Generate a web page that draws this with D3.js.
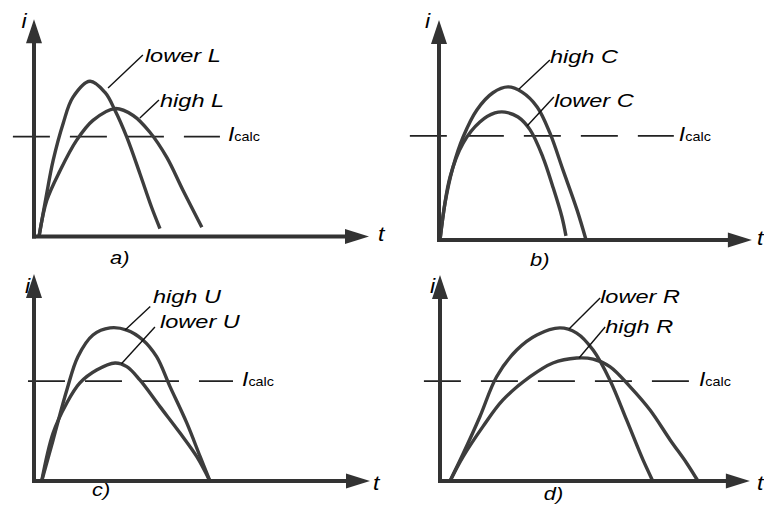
<!DOCTYPE html>
<html>
<head>
<meta charset="utf-8">
<script src="https://d3js.org/d3.v7.min.js"></script>
<style>
    body { margin: 0; background: #fff; }
    svg { display: block; }
    text { font-family: "Liberation Sans", Arial, sans-serif; font-style: italic; fill: #000; }
</style>
</head>
<body>
<div class="chart"></div>
<script>

// curve samples as [t, i] (t: 0..10, i: 0..10 per panel)
var lowerL = [[0.15,0],[0.38,2.0],[0.57,3.53],[0.87,5.26],[1.16,6.47],[1.67,7.22],[2.12,6.70],[2.42,5.86],[2.77,4.62],[3.16,2.93],[3.51,1.36],[3.76,0.37]];
var highL  = [[0.15,0],[0.38,1.67],[0.78,3.07],[1.27,4.47],[1.76,5.40],[2.42,5.95],[2.96,5.63],[3.46,4.85],[3.96,3.69],[4.45,2.14],[5.01,0.43]];

var highC  = [[0.03,0],[0.18,1.72],[0.42,3.40],[0.72,4.79],[1.13,6.05],[1.61,6.85],[2.06,7.12],[2.48,6.88],[2.93,6.19],[3.31,4.98],[3.70,3.26],[4.12,1.40],[4.39,0]];
var lowerC = [[0.03,0],[0.33,2.93],[0.72,4.51],[1.22,5.49],[1.67,5.91],[1.97,5.95],[2.36,5.72],[2.72,5.12],[3.10,3.86],[3.40,2.47],[3.67,1.07],[3.79,0.19]];

var highU  = [[0.23,0],[0.57,1.91],[0.98,4.23],[1.31,5.78],[1.76,6.79],[2.27,7.12],[2.77,7.02],[3.25,6.56],[3.66,5.78],[4.06,4.39],[4.56,2.70],[4.96,1.13],[5.25,0]];
var lowerU = [[0.23,0],[0.57,2.23],[0.98,3.63],[1.37,4.56],[1.87,5.16],[2.42,5.49],[2.77,5.32],[3.16,4.70],[3.76,3.46],[4.36,2.23],[4.86,1.13],[5.25,0]];

var lowerR = [[0.30,0],[0.70,1.30],[1.19,2.99],[1.69,4.85],[2.29,6.09],[2.89,6.79],[3.58,7.12],[4.08,6.88],[4.57,6.09],[5.07,4.70],[5.57,2.84],[6.06,0.98],[6.35,0]];
var highR  = [[0.30,0],[0.69,1.13],[1.28,2.53],[1.88,3.77],[2.69,4.85],[3.37,5.49],[4.08,5.72],[4.57,5.67],[5.07,5.32],[5.67,4.39],[6.27,3.30],[6.87,1.91],[7.36,0.84],[7.70,0]];

// I_calc level for each panel
var calcLevels = [4.65, 4.84, 4.65, 4.65];

// panel captions
var captions = ["a)", "b)", "c)", "d)"];

// curve labels, per panel
var curveLabels = [
    ["lower L", "high L"],
    ["high C", "lower C"],
    ["high U", "lower U"],
    ["lower R", "high R"]
];


/*
 * CurvePanel - one small i(t) diagram
 */

CurvePanel = function(_svg, _config){
    this.svg = _svg;
    this.config = _config;

    this.initVis();
}

CurvePanel.prototype.initVis = function(){
    var vis = this;
    var c = vis.config;

    // 10 units of t = 335px, 10 units of i = 215px
    vis.x = d3.scaleLinear()
        .domain([0, 10])
        .range([c.origin[0], c.origin[0] + 335]);

    vis.y = d3.scaleLinear()
        .domain([0, 10])
        .range([c.origin[1], c.origin[1] - 215]);

    vis.g = vis.svg.append("g").attr("class", "panel");

    vis.line = d3.line()
        .x(function(d) { return vis.x(d[0]); })
        .y(function(d) { return vis.y(d[1]); })
        .curve(d3.curveCatmullRom.alpha(0.5));

    vis.updateVis();
}

CurvePanel.prototype.updateVis = function(){
    var vis = this;
    var c = vis.config;
    var axisColor = "#333";

    // I_calc dashed line
    vis.g.append("line")
        .attr("x1", vis.x(c.dash[0]))
        .attr("x2", vis.x(c.dash[1]))
        .attr("y1", vis.y(c.level))
        .attr("y2", vis.y(c.level))
        .attr("stroke", "#222")
        .attr("stroke-width", 1.8)
        .attr("stroke-dasharray", "37,20");

    // curves
    vis.g.selectAll(".curve")
        .data(c.curves)
        .enter()
        .append("path")
        .attr("class", "curve")
        .attr("d", vis.line)
        .attr("fill", "none")
        .attr("stroke", "#3d3d3d")
        .attr("stroke-width", 3.4);

    // axes
    var x0 = vis.x(0), y0 = vis.y(0);
    var xt = vis.x(c.tMax), yt = vis.y(c.iMax);

    vis.g.append("line")
        .attr("x1", x0 - 2).attr("x2", xt - 20)
        .attr("y1", y0).attr("y2", y0)
        .attr("stroke", axisColor).attr("stroke-width", 4);

    vis.g.append("line")
        .attr("x1", x0).attr("x2", x0)
        .attr("y1", y0 + 2).attr("y2", yt + 20)
        .attr("stroke", axisColor).attr("stroke-width", 4);

    vis.g.append("path")
        .attr("d", "M" + xt + "," + y0 + "L" + (xt - 24) + "," + (y0 - 7.5) + "L" + (xt - 24) + "," + (y0 + 7.5) + "Z")
        .attr("fill", axisColor);

    vis.g.append("path")
        .attr("d", "M" + x0 + "," + yt + "L" + (x0 - 8) + "," + (yt + 24) + "L" + (x0 + 8) + "," + (yt + 24) + "Z")
        .attr("fill", axisColor);

    // axis letters
    vis.addText("t", c.tPos, 21, 1.1);
    vis.addText("i", c.iPos, 21, 1.1);

    // leaders + labels
    c.labels.forEach(function(l, k) {
        vis.g.append("line")
            .attr("x1", vis.x(l.from[0])).attr("y1", vis.y(l.from[1]))
            .attr("x2", vis.x(l.to[0])).attr("y2", vis.y(l.to[1]))
            .attr("stroke", "#111")
            .attr("stroke-width", 1.4);

        vis.addText(c.names[k], l.at, 19, 1.24);
    });

    // I_calc
    var ic = vis.g.append("text")
        .attr("transform", "translate(" + vis.x(c.calcPos[0]) + "," + vis.y(c.calcPos[1]) + ") scale(1.15,1)");
    ic.append("tspan").style("font-size", "20px").text("I");
    ic.append("tspan").style("font-size", "12.5px").style("font-style", "normal").text("calc");

    // caption
    vis.addText(c.caption, c.capPos, 19, 1.15);
}

CurvePanel.prototype.addText = function(str, pos, size, stretch){
    var vis = this;
    vis.g.append("text")
        .attr("transform", "translate(" + vis.x(pos[0]) + "," + vis.y(pos[1]) + ") scale(" + stretch + ",1)")
        .style("font-size", size + "px")
        .text(str);
}


var svg = d3.select(".chart").append("svg")
    .attr("width", 764)
    .attr("height", 506);

var panels = [
    { origin: [34, 236.5], tMax: 10, iMax: 10.1, curves: [lowerL, highL], level: calcLevels[0], dash: [-0.63, 5.55],
      calcPos: [5.79, 4.44], caption: captions[0], capPos: [2.27, -1.28], tPos: [10.27, -0.2], iPos: [-0.37, 9.68],
      names: curveLabels[0],
      labels: [ { at: [3.31, 8.12], from: [2.21, 6.91], to: [3.25, 8.44] },
                { at: [3.76, 6.02], from: [3.16, 5.51], to: [3.73, 6.35] } ] },
    { origin: [439, 240], tMax: 9.34, iMax: 10.23, curves: [highC, lowerC], level: calcLevels[1], dash: [-0.87, 7.01],
      calcPos: [7.16, 4.6], caption: captions[1], capPos: [2.72, -1.21], tPos: [9.49, -0.23], iPos: [-0.42, 9.86],
      names: curveLabels[1],
      labels: [ { at: [3.31, 8.23], from: [2.39, 7.02], to: [3.31, 8.37] },
                { at: [3.43, 6.19], from: [2.63, 5.30], to: [3.43, 6.65] } ] },
    { origin: [34, 481], tMax: 10.03, iMax: 9.63, curves: [highU, lowerU], level: calcLevels[2], dash: [-0.18, 5.94],
      calcPos: [6.21, 4.42], caption: captions[2], capPos: [1.73, -0.7], tPos: [10.12, -0.42], iPos: [-0.27, 8.74],
      names: curveLabels[2],
      labels: [ { at: [3.55, 8.28], from: [2.72, 7.02], to: [3.47, 8.12] },
                { at: [3.76, 7.12], from: [2.61, 5.45], to: [3.61, 7.16] } ] },
    { origin: [440, 481], tMax: 9.25, iMax: 9.58, curves: [lowerR, highR], level: calcLevels[3], dash: [-0.48, 7.43],
      calcPos: [7.73, 4.42], caption: captions[3], capPos: [3.1, -0.88], tPos: [9.46, -0.42], iPos: [-0.3, 8.74],
      names: curveLabels[3],
      labels: [ { at: [4.78, 8.28], from: [3.85, 7.07], to: [4.78, 8.51] },
                { at: [4.93, 6.88], from: [4.15, 5.72], to: [4.93, 7.16] } ] }
];

panels.forEach(function(p) {
    new CurvePanel(svg, p);
});

</script>
</body>
</html>
